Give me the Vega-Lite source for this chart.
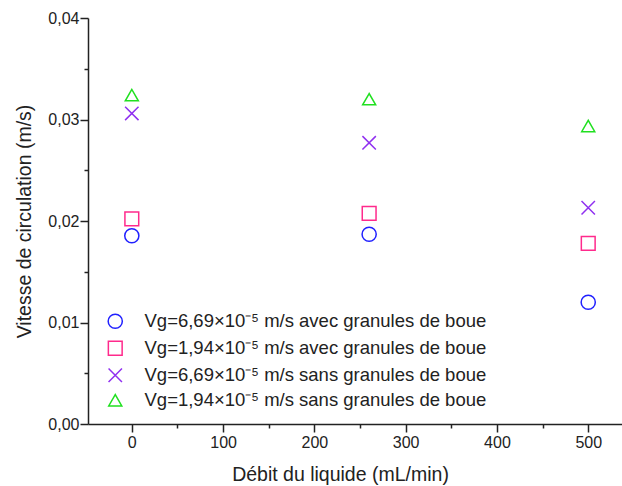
{
  "$schema": "https://vega.github.io/schema/vega-lite/v6.json",
  "autosize": {"type": "none"},
  "width": 534,
  "height": 406,
  "padding": {"left": 88, "top": 18, "right": 0, "bottom": 62},
  "background": "white",
  "config": {
    "font": "Liberation Sans",
    "view": {"stroke": null},
    "axis": {"grid": false, "domainColor": "#222", "domainWidth": 1.5, "tickColor": "#222", "tickWidth": 1.5, "labelColor": "#222", "titleColor": "#222", "labelFont": "Liberation Sans", "titleFont": "Liberation Sans", "titleFontWeight": "normal"}
  },
  "data": {"values": [
    {"debit": 0, "v": 0.01855, "serie": "Vg=6,69×10⁻⁵ m/s avec granules de boue"},
    {"debit": 260, "v": 0.01869, "serie": "Vg=6,69×10⁻⁵ m/s avec granules de boue"},
    {"debit": 500, "v": 0.0120, "serie": "Vg=6,69×10⁻⁵ m/s avec granules de boue"},
    {"debit": 0, "v": 0.0202, "serie": "Vg=1,94×10⁻⁵ m/s avec granules de boue"},
    {"debit": 260, "v": 0.02076, "serie": "Vg=1,94×10⁻⁵ m/s avec granules de boue"},
    {"debit": 500, "v": 0.0178, "serie": "Vg=1,94×10⁻⁵ m/s avec granules de boue"},
    {"debit": 0, "v": 0.0306, "serie": "Vg=6,69×10⁻⁵ m/s sans granules de boue"},
    {"debit": 260, "v": 0.0277, "serie": "Vg=6,69×10⁻⁵ m/s sans granules de boue"},
    {"debit": 500, "v": 0.02131, "serie": "Vg=6,69×10⁻⁵ m/s sans granules de boue"},
    {"debit": 0, "v": 0.0324, "serie": "Vg=1,94×10⁻⁵ m/s sans granules de boue"},
    {"debit": 260, "v": 0.0320, "serie": "Vg=1,94×10⁻⁵ m/s sans granules de boue"},
    {"debit": 500, "v": 0.02936, "serie": "Vg=1,94×10⁻⁵ m/s sans granules de boue"}
  ]},
  "resolve": {"scale": {"x": "independent", "y": "independent"}, "axis": {"x": "independent", "y": "independent"}},
  "layer": [
    {
      "mark": {"type": "point", "filled": false, "strokeWidth": 1.5, "opacity": 1},
      "encoding": {
        "x": {"field": "debit", "type": "quantitative", "scale": {"domain": [-48, 537], "nice": false, "zero": false},
          "axis": {"orient": "bottom", "values": [0, 100, 200, 300, 400, 500], "tickSize": 8, "labelPadding": 2, "labelFontSize": 16, "title": "Débit du liquide (mL/min)", "titleFontSize": 19.5, "titlePadding": 15, "titleX": 252}},
        "y": {"field": "v", "type": "quantitative", "scale": {"domain": [0, 0.04], "nice": false},
          "axis": {"orient": "left", "values": [0, 0.01, 0.02, 0.03, 0.04], "labelExpr": "replace(format(datum.value, '.2f'), '.', ',')", "tickSize": 8, "labelPadding": 1, "labelFontSize": 16, "title": "Vitesse de circulation (m/s)", "titleFontSize": 19.5, "titlePadding": 13}},
        "color": {"field": "serie", "type": "nominal",
          "scale": {"domain": ["Vg=6,69×10⁻⁵ m/s avec granules de boue", "Vg=1,94×10⁻⁵ m/s avec granules de boue", "Vg=6,69×10⁻⁵ m/s sans granules de boue", "Vg=1,94×10⁻⁵ m/s sans granules de boue"], "range": ["#2020ff", "#ff2a8c", "#9030f0", "#20e020"]},
          "legend": {"orient": "none", "legendX": 18, "legendY": 294, "title": null, "labelFontSize": 18.5, "labelColor": "#222", "labelOffset": 20, "rowPadding": 6, "symbolStrokeWidth": 1.5, "labelLimit": 500}},
        "shape": {"field": "serie", "type": "nominal",
          "scale": {"domain": ["Vg=6,69×10⁻⁵ m/s avec granules de boue", "Vg=1,94×10⁻⁵ m/s avec granules de boue", "Vg=6,69×10⁻⁵ m/s sans granules de boue", "Vg=1,94×10⁻⁵ m/s sans granules de boue"], "range": ["circle", "square", "M-1,-1L1,1M1,-1L-1,1", "triangle-up"]}},
        "size": {"field": "serie", "type": "nominal",
          "scale": {"domain": ["Vg=6,69×10⁻⁵ m/s avec granules de boue", "Vg=1,94×10⁻⁵ m/s avec granules de boue", "Vg=6,69×10⁻⁵ m/s sans granules de boue", "Vg=1,94×10⁻⁵ m/s sans granules de boue"], "range": [200, 170, 280, 340]}}
      }
    },
    {
      "mark": {"type": "point", "opacity": 0},
      "encoding": {
        "x": {"field": "debit", "type": "quantitative", "scale": {"domain": [-48, 537], "nice": false, "zero": false},
          "axis": {"orient": "bottom", "values": [50, 150, 250, 350, 450], "tickSize": 4, "labels": false, "domain": false, "title": null}},
        "y": {"field": "v", "type": "quantitative", "scale": {"domain": [0, 0.04], "nice": false},
          "axis": {"orient": "left", "values": [0.005, 0.015, 0.025, 0.035], "tickSize": 4, "labels": false, "domain": false, "title": null}}
      }
    }
  ]
}
